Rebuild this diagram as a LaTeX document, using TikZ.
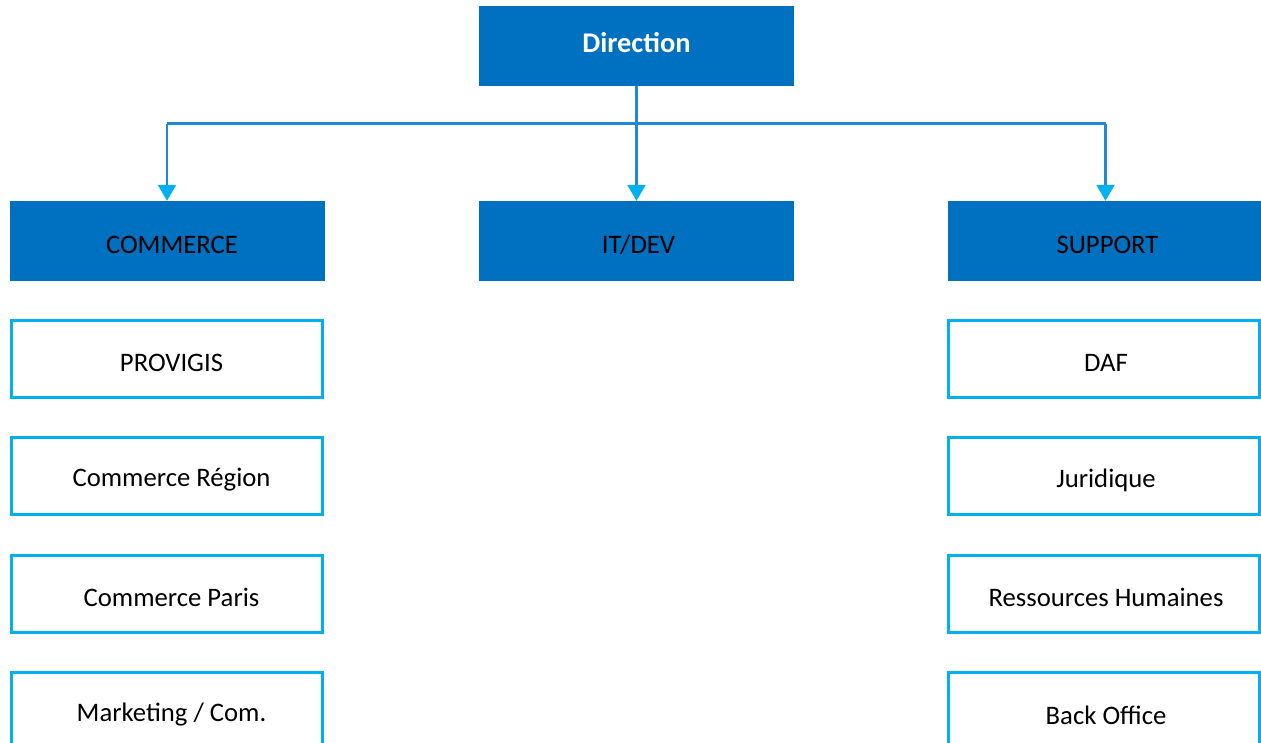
\documentclass[tikz,border=0pt]{standalone}
\usepackage{fontspec}
\setmainfont{Carlito}
\usetikzlibrary{arrows.meta}
\definecolor{dark}{HTML}{0070C0}
\definecolor{light}{HTML}{00B0F0}
\definecolor{linec}{HTML}{2088D8}
\tikzset{
  x=1pt, y=-1pt,
  headbox/.style={fill=dark, draw=none, minimum width=315pt, minimum height=80pt, inner sep=0pt, font=\fontsize{26.7}{32}\selectfont, text=black},
  subbox/.style={fill=white, draw=light, line width=3pt, minimum width=311pt, minimum height=77pt, inner sep=0pt, font=\fontsize{26.7}{32}\selectfont, text=black},
  lefttext/.style={label={[font=\fontsize{26.7}{32}\selectfont, text=black, yshift=-4pt, xshift=5pt]center:#1}},
  righttext/.style={label={[font=\fontsize{26.7}{32}\selectfont, text=black, yshift=-4pt, xshift=2pt]center:#1}},
  conn/.style={draw=linec, line width=2.2pt},
  connarrow/.style={conn, -{Triangle[width=18pt,length=16pt,color=light]}},
}
\begin{document}
\begin{tikzpicture}
\useasboundingbox (0,0) rectangle (1261,742);
\clip (0,0) rectangle (1261,742);
\node[headbox, text=white, font=\fontsize{28.5}{34}\selectfont\bfseries, text depth=0pt, text height=0pt] (dir) at (636.5,46) {};
\node[text=white, font=\fontsize{28.5}{34}\selectfont\bfseries, inner sep=0pt] (dirt) at (636.5,43) {Direction};
\node[headbox, lefttext=COMMERCE] (com) at (167,241) {};
\node[headbox, righttext=IT/DEV] (it) at (636.5,241) {};
\node[headbox, righttext=SUPPORT] (sup) at (1105.5,241) {};
\node[subbox, lefttext=PROVIGIS] (s1) at (166.5,358.5) {};
\node[subbox, lefttext=Commerce Région] (s2) at (166.5,476) {};
\node[subbox, lefttext=Commerce Paris] (s3) at (166.5,593.5) {};
\node[subbox, lefttext=Marketing / Com.] (s4) at (166.5,711) {};
\node[subbox, righttext=DAF] (r1) at (1104,358.5) {};
\node[subbox, righttext=Juridique] (r2) at (1104,476) {};
\node[subbox, righttext=Ressources Humaines] (r3) at (1104,593.5) {};
\node[subbox, righttext=Back Office] (r4) at (1104,711) {};
\coordinate (j) at (636.5,123.5);
\draw[conn] (j -| com.north) -- (j -| sup.north);
\draw[connarrow] (dir.south) -- (it.north);
\draw[connarrow] (j -| com.north) -- (com.north);
\draw[connarrow] (j -| sup.north) -- (sup.north);
\end{tikzpicture}
\end{document}
